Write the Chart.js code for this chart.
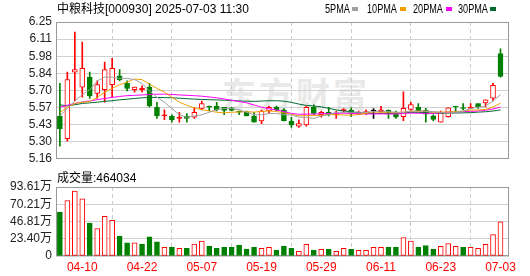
<!DOCTYPE html>
<html>
<head>
<meta charset="utf-8">
<script src="https://cdn.jsdelivr.net/npm/chart.js@4.4.1/dist/chart.umd.min.js"></script>
<style>
  body { margin: 0; background: #fff; font-family: "Liberation Sans", "Noto Sans CJK SC", sans-serif; }
  #wrap { position: relative; width: 530px; height: 276px; overflow: hidden; }
  .txt { position: absolute; font-size: 12px; line-height: 12px; color: #000; white-space: nowrap; }
  .lg { transform: scaleX(0.76); transform-origin: 0 0; }
  .sq { position: absolute; top: 7px; width: 6px; height: 4px; }
  #mark { position: absolute; left: 222px; top: 68px; font: bold 34px "Noto Sans CJK SC", sans-serif;
          letter-spacing: 3px; color: #e9e9e9; white-space: nowrap; }
  canvas { position: absolute; left: 0; }
</style>
</head>
<body>
<div id="wrap">
  <div id="mark">东方财富</div>
  <canvas id="kline" width="530" height="170" style="top:0"></canvas>
  <canvas id="vol" width="530" height="104" style="top:172px"></canvas>

  <div class="txt" style="left:57px;top:3px">中粮科技[000930] 2025-07-03 11:30</div>
  <div class="txt lg" style="left:325px;top:3px">5PMA</div><div class="sq" style="left:352px;background:#a0a0a0"></div>
  <div class="txt lg" style="left:367px;top:3px">10PMA</div><div class="sq" style="left:400px;background:#f0a000"></div>
  <div class="txt lg" style="left:413px;top:3px">20PMA</div><div class="sq" style="left:446px;background:#ff00ff"></div>
  <div class="txt lg" style="left:458px;top:3px">30PMA</div><div class="sq" style="left:490px;background:#006a30"></div>
  <div class="txt" style="left:57px;top:172px">成交量:464034</div>
</div>

<script>
// trading days shown (2025)
const dates = ['04-07','04-08','04-09','04-10','04-11','04-14','04-15','04-16','04-17','04-18',
               '04-21','04-22','04-23','04-24','04-25','04-28','04-29','04-30','05-06','05-07',
               '05-08','05-09','05-12','05-13','05-14','05-15','05-16','05-19','05-20','05-21',
               '05-22','05-23','05-26','05-27','05-28','05-29','05-30','06-03','06-04','06-05',
               '06-06','06-09','06-10','06-11','06-12','06-13','06-16','06-17','06-18','06-19',
               '06-20','06-23','06-24','06-25','06-26','06-27','06-30','07-01','07-02','07-03'];

const open  = [5.50,5.32,5.85,5.73,5.81,5.68,5.71,5.75,5.82,5.76,
               5.71,5.71,5.73,5.57,5.50,5.50,5.48,5.50,5.49,5.56,
               5.58,5.58,5.57,5.565,5.54,5.53,5.50,5.46,5.54,5.57,
               5.55,5.46,5.42,5.43,5.57,5.51,5.53,5.51,5.543,5.545,
               5.515,5.52,5.54,5.535,5.545,5.52,5.495,5.553,5.57,5.546,
               5.502,5.451,5.495,5.578,5.566,5.56,5.599,5.604,5.642,5.998];
const high  = [5.76,5.85,6.17,6.09,5.85,5.78,5.93,5.96,5.87,5.78,
               5.73,5.74,5.76,5.61,5.55,5.51,5.53,5.52,5.57,5.62,
               5.58,5.61,5.57,5.57,5.54,5.54,5.53,5.55,5.58,5.58,
               5.56,5.49,5.47,5.58,5.59,5.54,5.57,5.54,5.56,5.566,
               5.54,5.55,5.56,5.578,5.55,5.54,5.693,5.609,5.60,5.561,
               5.51,5.54,5.566,5.578,5.60,5.60,5.60,5.63,5.761,6.036];
const low   = [5.26,5.30,5.62,5.65,5.64,5.64,5.61,5.65,5.78,5.70,
               5.69,5.69,5.57,5.48,5.47,5.45,5.45,5.45,5.48,5.55,
               5.54,5.54,5.51,5.54,5.51,5.50,5.45,5.44,5.52,5.54,
               5.46,5.41,5.41,5.42,5.51,5.49,5.50,5.48,5.53,5.495,
               5.51,5.51,5.48,5.53,5.48,5.48,5.462,5.54,5.54,5.451,
               5.46,5.45,5.49,5.53,5.55,5.558,5.56,5.573,5.62,5.81];
const close = [5.40,5.79,5.87,5.88,5.66,5.75,5.87,5.88,5.79,5.72,
               5.73,5.72,5.58,5.50,5.51,5.47,5.49,5.48,5.53,5.60,
               5.57,5.55,5.545,5.545,5.53,5.50,5.45,5.54,5.57,5.55,
               5.46,5.43,5.44,5.57,5.52,5.53,5.51,5.515,5.548,5.525,
               5.53,5.535,5.54,5.55,5.52,5.49,5.561,5.591,5.54,5.515,
               5.472,5.527,5.566,5.572,5.56,5.57,5.573,5.63,5.744,5.815];
const prevClose = 5.95;   // close of the day before the first bar

const volume = [596000,753000,880000,776000,448000,372000,538000,484000,269000,179000,
                179000,161000,260000,193000,117000,117000,103000,103000,161000,202000,
                134000,103000,117000,117000,148000,94000,117000,103000,117000,81000,
                134000,103000,63000,157000,81000,90000,90000,63000,103000,90000,
                76000,76000,117000,117000,117000,117000,251000,202000,117000,143000,
                90000,130000,170000,130000,117000,117000,103000,157000,291000,464034];

const ma5  = [5.50,5.56,5.62,5.67,5.71,5.78,5.81,5.81,5.80,5.80,
              5.79,5.76,5.70,5.65,5.61,5.56,5.51,5.49,5.50,5.51,
              5.53,5.55,5.56,5.56,5.55,5.53,5.51,5.51,5.52,5.52,
              5.51,5.51,5.49,5.49,5.48,5.50,5.51,5.53,5.53,5.53,
              5.53,5.53,5.535,5.54,5.535,5.53,5.53,5.54,5.54,5.54,
              5.535,5.53,5.52,5.53,5.54,5.56,5.57,5.58,5.62,5.67];
const ma10 = [5.527,5.57,5.60,5.61,5.615,5.65,5.69,5.72,5.75,5.77,
              5.795,5.79,5.755,5.72,5.69,5.65,5.61,5.585,5.565,5.55,
              5.54,5.53,5.525,5.53,5.532,5.535,5.531,5.537,5.541,5.536,
              5.525,5.513,5.502,5.504,5.503,5.506,5.512,5.51,5.508,5.506,
              5.512,5.522,5.532,5.53,5.53,5.526,5.531,5.539,5.538,5.537,
              5.531,5.531,5.533,5.535,5.54,5.547,5.548,5.552,5.572,5.602];
const ma20 = [5.570,5.586,5.600,5.612,5.620,5.630,5.640,5.648,5.656,5.662,
              5.665,5.668,5.672,5.674,5.674,5.672,5.668,5.665,5.662,5.658,
              5.652,5.645,5.636,5.625,5.616,5.605,5.588,5.570,5.557,5.548,
              5.535,5.521,5.514,5.515,5.516,5.518,5.520,5.522,5.523,5.520,
              5.518,5.517,5.517,5.517,5.516,5.516,5.521,5.524,5.522,5.521,
              5.521,5.526,5.532,5.533,5.535,5.537,5.540,5.546,5.556,5.571];
const ma30 = [5.59,5.58,5.59,5.60,5.605,5.61,5.617,5.622,5.629,5.634,
              5.640,5.645,5.648,5.648,5.647,5.645,5.642,5.638,5.635,5.632,
              5.630,5.628,5.626,5.624,5.620,5.618,5.617,5.619,5.622,5.622,
              5.618,5.609,5.595,5.585,5.580,5.573,5.561,5.549,5.540,5.534,
              5.527,5.521,5.520,5.521,5.522,5.522,5.525,5.529,5.529,5.526,
              5.523,5.522,5.523,5.524,5.525,5.527,5.531,5.534,5.540,5.549];

const priceTicks = ['5.16','5.30','5.43','5.57','5.70','5.84','5.98','6.11','6.25'];
const volTicks = ['0','23.40万','46.81万','70.21万','93.61万'];

const P_MIN = 5.159, P_MAX = 6.2494;
const V_MAX = 936136;
const X_MIN = -0.52, X_MAX = 60.14;

const RED = '#ff0000', GREEN = '#008000';

Chart.defaults.font.family = '"Liberation Sans", "Noto Sans CJK SC", sans-serif';
Chart.defaults.font.size = 12;

const candleColor = close.map((c, i) => c > open[i] ? RED : (c < open[i] ? GREEN : '#000'));
const bodyFill = close.map((c, i) => {
    if (c > open[i] && c - open[i] > 0.015) return '#fff';
    return candleColor[i];
});
const volColor = close.map((c, i) => c > (i ? close[i - 1] : prevClose) ? RED : GREEN);

const frame = {
    id: 'frame',
    beforeDatasetsDraw(chart) {
        const {ctx, chartArea: a} = chart;
        ctx.save();
        ctx.strokeStyle = '#9a9a9a';
        ctx.lineWidth = 1;
        ctx.strokeRect(Math.round(a.left) + 0.5, Math.round(a.top) + 0.5,
                       Math.round(a.width) - 1, Math.round(a.height) - 1);
        ctx.restore();
    }
};

function xAxis(showLabels) {
    return {
        type: 'linear', min: X_MIN, max: X_MAX, offset: false,
        afterBuildTicks: s => {
            s.ticks = [];
            for (let i = 3; i < dates.length; i += 8) s.ticks.push({value: i});
        },
        afterFit: s => { s.height = showLabels ? 20 : 0; },
        grid: {color: '#cccccc', drawTicks: false},
        border: {display: false, dash: [4, 3]},
        ticks: {display: showLabels, color: RED, padding: 4, autoSkip: false, maxRotation: 0,
                callback: v => dates[v]}
    };
}

function yAxis(min, max, labels) {
    return {
        min: min, max: max,
        afterBuildTicks: s => {
            const step = (max - min) / (labels.length - 1);
            s.ticks = labels.map((t, i) => ({value: min + i * step}));
        },
        afterFit: s => { s.width = 56; },
        grid: {color: '#d0d0d0', drawTicks: false},
        border: {display: false},
        ticks: {color: '#222', padding: 4, autoSkip: false, callback: (v, i) => labels[i]}
    };
}

function maLine(label, values, color) {
    return {
        type: 'line', label: label,
        data: values.map((v, i) => ({x: i, y: v})),
        borderColor: color, borderWidth: 1, pointRadius: 0, tension: 0, order: 0
    };
}

new Chart(document.getElementById('kline'), {
    type: 'bar',
    data: {
        datasets: [
            maLine('5PMA', ma5, '#a0a0a0'),
            maLine('10PMA', ma10, '#f0a000'),
            maLine('20PMA', ma20, '#ff00ff'),
            maLine('30PMA', ma30, '#006a30'),
            {
                label: 'body',
                data: dates.map((d, i) => ({x: i, y: [open[i], close[i]]})),
                backgroundColor: bodyFill, borderColor: candleColor, borderWidth: 1,
                borderSkipped: false, barThickness: 5, minBarLength: 1, grouped: false, order: 1
            },
            {
                label: 'wick',
                data: dates.map((d, i) => ({x: i, y: [low[i], high[i]]})),
                backgroundColor: candleColor, barThickness: 1, grouped: false, order: 2
            }
        ]
    },
    options: {
        responsive: false, animation: false, devicePixelRatio: 1,
        layout: {padding: {top: 22, right: 21, bottom: 5, left: 0}},
        plugins: {legend: {display: false}, tooltip: {enabled: false}},
        scales: {
            x: xAxis(false),
            y: yAxis(P_MIN, P_MAX, priceTicks)
        }
    },
    plugins: [frame]
});

new Chart(document.getElementById('vol'), {
    type: 'bar',
    data: {
        datasets: [{
            label: '成交量',
            data: volume.map((v, i) => ({x: i, y: v})),
            backgroundColor: volColor.map(c => c === RED ? '#fff' : GREEN),
            borderColor: volColor, borderWidth: 1, borderSkipped: false,
            barThickness: 5, grouped: false
        }]
    },
    options: {
        responsive: false, animation: false, devicePixelRatio: 1,
        layout: {padding: {top: 15, right: 21, bottom: 0, left: 0}},
        plugins: {legend: {display: false}, tooltip: {enabled: false}},
        scales: {
            x: xAxis(true),
            y: yAxis(0, V_MAX, volTicks)
        }
    },
    plugins: [frame]
});
</script>
</body>
</html>
